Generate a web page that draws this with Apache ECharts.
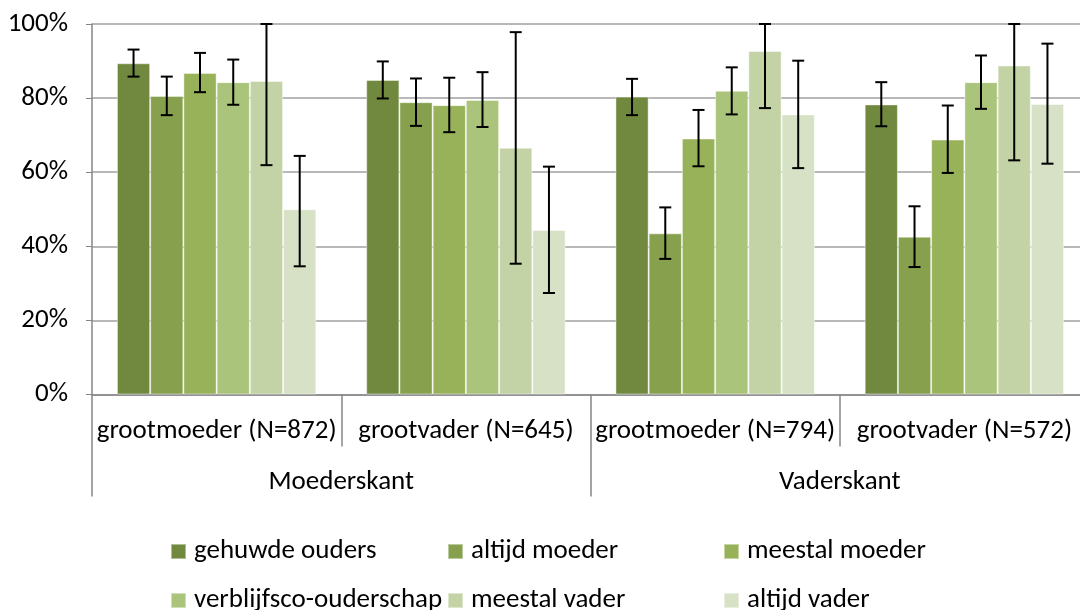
<!DOCTYPE html>
<html><head><meta charset="utf-8">
<script src="https://cdn.jsdelivr.net/npm/echarts@6/dist/echarts.min.js"></script>
<style>html,body{margin:0;padding:0;background:#fff}#c{width:1080px;height:610px}</style>
</head><body><div id="c"></div>
<script>
const categories = ['grootmoeder (N=872)', 'grootvader (N=645)', 'grootmoeder (N=794)', 'grootvader (N=572)'];
const groups = ['Moederskant', 'Vaderskant'];
const seriesNames = ['gehuwde ouders', 'altijd moeder', 'meestal moeder', 'verblijfsco-ouderschap', 'meestal vader', 'altijd vader'];
const yTicks = [0, 20, 40, 60, 80, 100];

const gehuwdeOuders = [89.4, 84.9, 80.4, 78.3];
const altijdMoeder = [80.6, 78.9, 43.5, 42.6];
const meestalMoeder = [86.8, 78.1, 69.1, 68.8];
const verblijfsco = [84.3, 79.5, 82.0, 84.3];
const meestalVader = [84.6, 66.6, 92.7, 88.8];
const altijdVader = [50.0, 44.4, 75.6, 78.4];

const gehuwdeOudersLo = [85.8, 79.9, 75.4, 72.4];
const gehuwdeOudersHi = [93.1, 89.9, 85.2, 84.3];
const altijdMoederLo = [75.4, 72.5, 36.6, 34.4];
const altijdMoederHi = [85.8, 85.3, 50.5, 50.8];
const meestalMoederLo = [81.6, 70.8, 61.6, 59.8];
const meestalMoederHi = [92.2, 85.5, 76.8, 78.0];
const verblijfscoLo = [78.2, 72.2, 75.6, 77.1];
const verblijfscoHi = [90.4, 87.0, 88.3, 91.5];
const meestalVaderLo = [61.9, 35.3, 77.3, 63.2];
const meestalVaderHi = [100, 97.8, 100, 100];
const altijdVaderLo = [34.6, 27.4, 61.1, 62.3];
const altijdVaderHi = [64.4, 61.5, 90.1, 94.7];

const values = [gehuwdeOuders, altijdMoeder, meestalMoeder, verblijfsco, meestalVader, altijdVader];
const lows = [gehuwdeOudersLo, altijdMoederLo, meestalMoederLo, verblijfscoLo, meestalVaderLo, altijdVaderLo];
const highs = [gehuwdeOudersHi, altijdMoederHi, meestalMoederHi, verblijfscoHi, meestalVaderHi, altijdVaderHi];
const colors = ['#71893f', '#86a04e', '#97b258', '#abc47b', '#c3d3a6', '#d7e1c6'];

const FONT = 'Carlito, Lato, sans-serif';
const FS = 27;
const chart = echarts.init(document.getElementById('c'), null, {renderer: 'canvas'});

const errData = [];
for (let s = 0; s < 6; s++) for (let c = 0; c < categories.length; c++) errData.push([c, s, lows[s][c], highs[s][c]]);

const series = seriesNames.map((n, i) => ({
  name: n, type: 'bar', data: values[i], barGap: '0%', barCategoryGap: '20%',
  itemStyle: {color: colors[i], borderColor: 'rgba(255,255,255,0.45)', borderWidth: 1}
}));
series.push({
  type: 'custom', z: 10, silent: true, data: errData,
  encode: {x: 0, y: [2, 3]},
  renderItem: function (params, api) {
    const c = api.value(0), s = api.value(1);
    const lo = api.coord([c, api.value(2)]);
    const hi = api.coord([c, api.value(3)]);
    const band = api.size([1, 0])[0];
    const bw = band * 0.8 / 6;
    const x = lo[0] - band * 0.4 + bw * (s + 0.5);
    const cap = 6;
    const st = {stroke: '#000', lineWidth: 2};
    return {type: 'group', children: [
      {type: 'line', shape: {x1: x, y1: hi[1], x2: x, y2: lo[1]}, style: st},
      {type: 'line', shape: {x1: x - cap, y1: hi[1], x2: x + cap, y2: hi[1]}, style: st},
      {type: 'line', shape: {x1: x - cap, y1: lo[1], x2: x + cap, y2: lo[1]}, style: st}
    ]};
  }
});

const legendPos = [[170, 538], [447, 538], [723, 538], [170, 587], [447, 587], [723, 587]];
const legends = seriesNames.map((n, i) => ({
  data: [n], left: legendPos[i][0], top: legendPos[i][1], icon: 'rect', padding: 0,
  itemWidth: 15, itemHeight: 15, itemGap: 0, selectedMode: false,
  textStyle: {fontFamily: FONT, fontSize: FS, color: '#000', padding: [0, 0, 0, 3]}
}));

chart.setOption({
  animation: false,
  color: colors,
  grid: {left: 92, top: 24, width: 997, height: 370.5, containLabel: false, outerBoundsMode: 'none'},
  legend: legends,
  xAxis: [{
    type: 'category', data: categories, position: 'bottom',
    axisLine: {show: true, lineStyle: {color: '#868686', width: 1.5}},
    axisTick: {show: true, interval: 0, length: 52, lineStyle: {color: '#868686', width: 1.5}},
    axisLabel: {interval: 0, margin: 23, fontFamily: FONT, fontSize: FS, color: '#000'}
  }, {
    type: 'category', data: groups, position: 'bottom', offset: 0,
    axisLine: {show: false},
    axisTick: {show: true, interval: 0, length: 102, lineStyle: {color: '#868686', width: 1.5}},
    axisLabel: {interval: 0, margin: 74, fontFamily: FONT, fontSize: FS, color: '#000'}
  }],
  yAxis: {
    type: 'value', min: 0, max: 100, interval: 20,
    axisLine: {show: true, lineStyle: {color: '#868686', width: 1.5}},
    axisTick: {show: true, length: 6, lineStyle: {color: '#868686'}},
    splitLine: {show: true, lineStyle: {color: '#a0a0a0', width: 1.5}},
    axisLabel: {formatter: '{value}%', margin: 24, fontFamily: FONT, fontSize: FS, color: '#000'}
  },
  series: series
});
</script></body></html>
